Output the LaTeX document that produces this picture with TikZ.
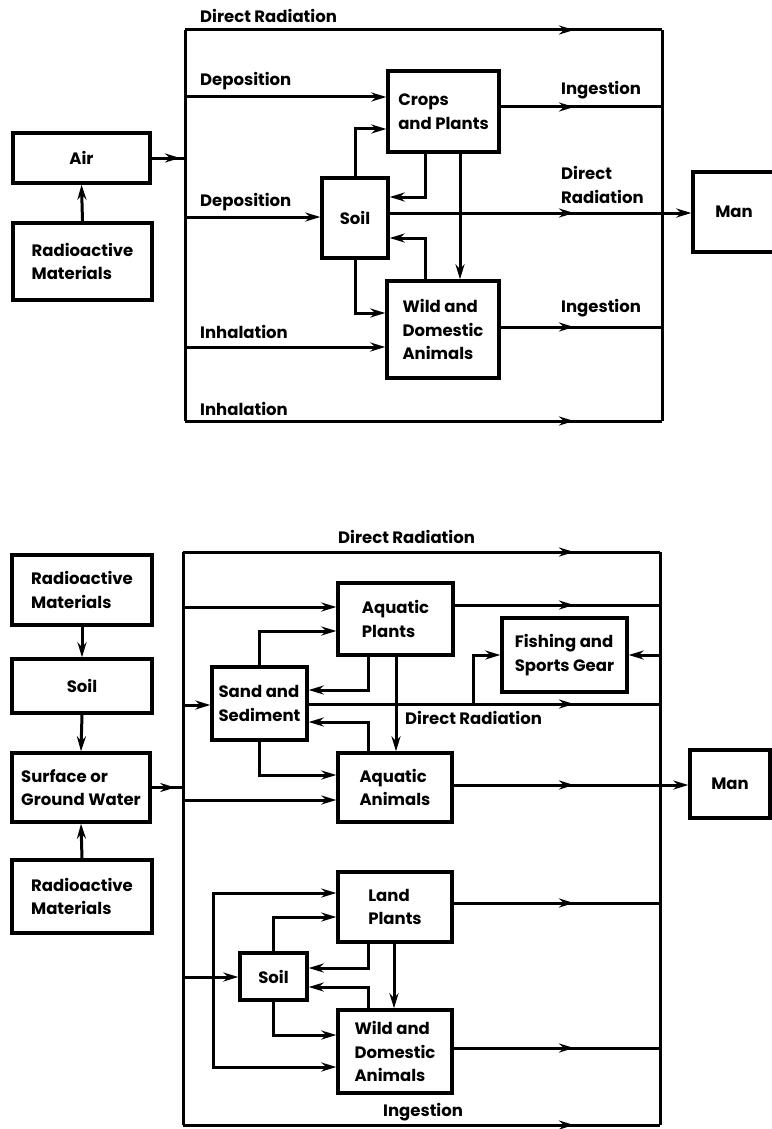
\documentclass[tikz,border=0pt]{standalone}
\usepackage{fontspec}
\setmainfont{Poppins}
\usetikzlibrary{arrows.meta,decorations.markings}
\newcommand\lbl{\fontsize{16.5}{23.5}\selectfont\bfseries}
\begin{document}
\begin{tikzpicture}[x=1pt,y=-1pt,
  >={Stealth[length=15pt,width=9pt]},
  box/.style={draw, line width=3.4pt, inner sep=0pt, align=left, font=\lbl},
  lab/.style={inner sep=0pt, align=left, font=\lbl},
  ln/.style={line width=3pt},
  marr/.style={postaction={decorate}, decoration={markings, mark=at position #1 with {\arrow{>}}}}]
\useasboundingbox (0,0) rectangle (771,1129);

% ---------------- top diagram ----------------
\node[box, minimum width=137pt, minimum height=50pt] (air) at (81.5,158) {Air};
\node[box, minimum width=139pt, minimum height=77pt] (rm1) at (82.5,261.5) {Radioactive\\Materials};
\node[box, minimum width=111pt, minimum height=81pt] (crops) at (443.5,111.5) {Crops\\and Plants};
\node[box, minimum width=66pt, minimum height=80pt] (soil1) at (355,218) {Soil};
\node[box, minimum width=112pt, minimum height=97pt] (wild1) at (443,329.5) {Wild and\\Domestic\\Animals};
\node[box, minimum width=82pt, minimum height=80pt] (man1) at (734,212) {Man};

\coordinate (tTL) at (185,30);
\coordinate (tTR) at (662,30);
\coordinate (tBL) at (185,421);
\coordinate (tBR) at (662,421);
\draw[ln] (tTL) -- (tBL);
\draw[ln] (tTR) -- (tBR);
\draw[ln, marr=-88pt] (tTL) -- (tTR);
\draw[ln, marr=-88pt] (tBL) -- (tBR);

\draw[ln,->] (rm1.north) -- (air.south);
\draw[ln, marr=0.85] (air.east) -- (air.east -| tTL);
\draw[ln,->] (tTL |- 0,97) -- (crops.west |- 0,97);
\draw[ln,->] (tTL |- 0,217) -- (soil1.west |- 0,217);
\draw[ln,->] (tTL |- 0,347) -- (wild1.west |- 0,347);
\draw[ln,->] (soil1.north) |- (crops.west |- 0,129);
\draw[ln,->] (crops.south -| 425,0) |- (soil1.east |- 0,197);
\draw[ln,->] (crops.south -| 460,0) -- (wild1.north -| 460,0);
\draw[ln,->] (wild1.north -| 425,0) |- (soil1.east |- 0,238);
\draw[ln,->] (soil1.south) |- (wild1.west |- 0,313);
\draw[ln, marr=-88pt] (soil1.east |- 0,213) -- (tTR |- 0,213);
\draw[ln,->] (tTR |- 0,213) -- (man1.west |- 0,213);
\draw[ln, marr=-88pt] (crops.east |- 0,107) -- (tTR |- 0,107);
\draw[ln, marr=-88pt] (wild1.east |- 0,327) -- (tTR |- 0,327);

\node[lab, anchor=west] (l1) at (200,16) {Direct Radiation};
\node[lab, anchor=west] (l2) at (200,81) {Deposition};
\node[lab, anchor=west] (l3) at (200,202) {Deposition};
\node[lab, anchor=west] (l4) at (200,332) {Inhalation};
\node[lab, anchor=west] (l5) at (200,409) {Inhalation};
\node[lab, anchor=west] (l6) at (561,90) {Ingestion};
\node[lab, anchor=west] (l7) at (561,308) {Ingestion};
\node[lab, anchor=west] (l8) at (561,185) {Direct\\Radiation};

% ---------------- bottom diagram ----------------
\node[box, minimum width=140pt, minimum height=70pt] (rm2) at (82,590) {Radioactive\\Materials};
\node[box, minimum width=140pt, minimum height=54pt] (soil2) at (82,686) {Soil};
\node[box, minimum width=138pt, minimum height=69pt] (sgw) at (81,787.5) {Surface or\\Ground Water};
\node[box, minimum width=140pt, minimum height=73pt] (rm3) at (82,896.5) {Radioactive\\Materials};
\node[box, minimum width=115pt, minimum height=72pt] (ap) at (395.5,619) {Aquatic\\Plants};
\node[box, minimum width=95pt, minimum height=73pt] (sand) at (259.5,703.5) {Sand and\\Sediment};
\node[box, minimum width=125pt, minimum height=74pt] (fish) at (564.5,655) {Fishing and\\Sports Gear};
\node[box, minimum width=114pt, minimum height=69pt] (aa) at (395,787.5) {Aquatic\\Animals};
\node[box, minimum width=80pt, minimum height=68pt] (man2) at (730,784) {Man};
\node[box, minimum width=114pt, minimum height=70pt] (lp) at (395,907) {Land\\Plants};
\node[box, minimum width=67pt, minimum height=47pt] (soil3) at (273.5,976.5) {Soil};
\node[box, minimum width=114pt, minimum height=83pt] (wild2) at (395,1051.5) {Wild and\\Domestic\\Animals};

\coordinate (bTL) at (183,552);
\coordinate (bTR) at (660,552);
\coordinate (bBL) at (183,1125);
\coordinate (bBR) at (660,1125);
\draw[ln] (bTL) -- (bBL);
\draw[ln] (bTR) -- (bBR);
\draw[ln, marr=-86pt] (bTL) -- (bTR);
\draw[ln, marr=-86pt] (bBL) -- (bBR);

\draw[ln,->] (rm2.south) -- (soil2.north);
\draw[ln,->] (soil2.south) -- (sgw.north);
\draw[ln,->] (rm3.north) -- (sgw.south);
\draw[ln, marr=0.75] (sgw.east) -- (sgw.east -| bTL);

\draw[ln,->] (bTL |- 0,607) -- (ap.west |- 0,607);
\draw[ln,->] (bTL |- 0,705) -- (sand.west |- 0,705);
\draw[ln,->] (sand.north) |- (ap.west |- 0,631);
\draw[ln,->] (ap.south -| 368,0) |- (sand.east |- 0,690);
\coordinate (br) at (473,704);
\draw[ln, marr=-86pt] (sand.east |- 0,704) -- (bTR |- 0,704);
\draw[ln,->] (br) |- (fish.west);
\draw[ln,->] (bTR |- fish.east) -- (fish.east);
\draw[ln, marr=-86pt] (ap.east |- 0,605) -- (bTR |- 0,605);
\draw[ln,->] (ap.south -| 396,0) -- (aa.north -| 396,0);
\draw[ln,->] (aa.north -| 368,0) |- (sand.east |- 0,722);
\draw[ln,->] (sand.south) |- (aa.west |- 0,775);
\draw[ln,->] (bTL |- 0,800) -- (aa.west |- 0,800);
\draw[ln, marr=-86pt] (aa.east |- 0,785) -- (bTR |- 0,785);
\draw[ln,->] (bTR |- 0,785) -- (man2.west |- 0,785);

\coordinate (sj) at (213,977);
\draw[ln,->] (bTL |- 0,977) -- (soil3.west |- 0,977);
\draw[ln,->] (sj) |- (lp.west |- 0,893);
\draw[ln,->] (sj) |- (wild2.west |- 0,1067);
\draw[ln,->] (soil3.north) |- (lp.west |- 0,917);
\draw[ln,->] (lp.south -| 368,0) |- (soil3.east |- 0,968);
\draw[ln,->] (wild2.north -| 368,0) |- (soil3.east |- 0,987);
\draw[ln,->] (soil3.south) |- (wild2.west |- 0,1035);
\draw[ln,->] (lp.south -| 394,0) -- (wild2.north -| 394,0);
\draw[ln, marr=-86pt] (lp.east |- 0,903) -- (bTR |- 0,903);
\draw[ln, marr=-86pt] (wild2.east |- 0,1048) -- (bTR |- 0,1048);

\node[lab, anchor=west] (m1) at (338,537) {Direct Radiation};
\node[lab, anchor=west] (m2) at (405,718) {Direct Radiation};
\node[lab, anchor=west] (m3) at (383,1112) {Ingestion};
\end{tikzpicture}
\end{document}
